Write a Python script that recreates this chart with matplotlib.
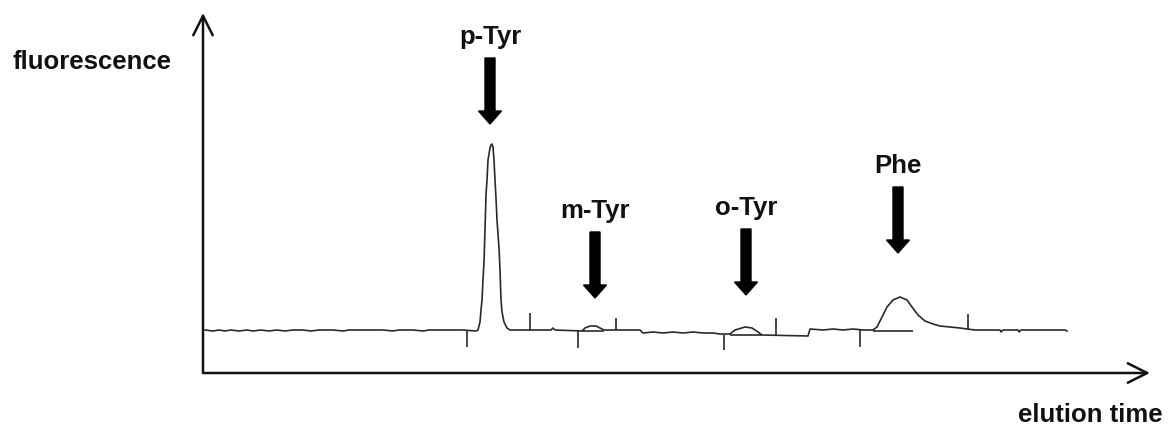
import matplotlib
matplotlib.use("Agg")
import matplotlib.pyplot as plt

plt.rcParams['font.family'] = ['Liberation Sans', 'DejaVu Sans']

# chromatogram trace, elution time vs fluorescence (arbitrary units)
elution_time = [2, 10, 16, 22, 28, 36, 44, 50, 58, 66, 74, 82, 90, 100, 108, 116, 130, 140,
                146, 160, 180, 190, 196, 210, 220, 226, 240, 260,
                273, 275, 277, 278, 279, 280, 281, 282, 283, 284, 285, 287, 288, 289, 290,
                291, 292, 293, 294, 296, 297, 298, 299, 301, 304, 307,
                320, 348, 350, 352, 379, 382, 387, 393, 397, 401,
                437, 440, 450, 460, 470, 480, 490, 500, 510, 517,
                527, 532, 542, 549, 555, 559, 605, 607, 620, 630, 640, 650, 660,
                670, 674, 679, 684, 690, 697, 704, 709, 715, 722, 730, 737, 747, 757, 764, 772,
                797, 798, 800, 815, 816, 818, 862, 864]
fluorescence = [43, 42, 43, 42, 43, 42, 43, 42, 43, 42, 43, 42, 43, 43, 42, 43, 43, 42,
                43, 43, 43, 42, 43, 43, 42, 43, 43, 43,
                42, 43, 51, 63, 73, 93, 111, 143, 178, 193, 213, 225, 228, 229, 226,
                213, 193, 175, 153, 125, 103, 73, 61, 51, 45, 43,
                43, 43, 45, 43, 42, 45, 47, 47, 45, 43,
                43, 40, 41, 40, 41, 40, 41, 40, 40, 39,
                39, 43, 46, 45, 41, 38, 37, 44, 43, 44, 43, 44, 43,
                43, 46, 56, 66, 73, 76, 73, 66, 58, 52, 49, 47, 46, 45, 44, 43,
                43, 41, 43, 43, 41, 43, 43, 42]

# event markers on the trace: (time, from, to)
marker_time = [264, 327, 375, 413, 521, 573, 657, 765]
marker_low = [26, 43, 25, 43, 23, 38, 26, 44]
marker_high = [43, 60, 43, 55, 38, 55, 43, 59]

# integration baselines under the small peaks
base_start = [379, 527, 670]
base_end = [401, 559, 710]
base_level = [42, 38, 42]

# peak annotations
peak_names = ["p-Tyr", "m-Tyr", "o-Tyr", "Phe"]
peak_times = [287, 392, 543, 695]
arrow_tips = [249, 75, 78, 120]

W, H = 1168, 430
ox, oy = 203, 373  # axis origin in pixels
fig = plt.figure(figsize=(W / 100, H / 100), dpi=100)
ax = fig.add_axes([ox / W, (H - oy) / H, (W - ox) / W, oy / H])
ax.set_xlim(0, W - ox)
ax.set_ylim(0, oy)
ax.axis("off")

ink = "#111111"

# axes arrows
ax.annotate("", xy=(0, 360), xytext=(0, 0), annotation_clip=False,
            arrowprops=dict(arrowstyle="->,head_length=0.7,head_width=0.35",
                            mutation_scale=20, lw=1.8, color=ink, shrinkA=0, shrinkB=0))
ax.annotate("", xy=(947, 0), xytext=(0, 0), annotation_clip=False,
            arrowprops=dict(arrowstyle="->,head_length=0.7,head_width=0.35",
                            mutation_scale=20, lw=1.8, color=ink, shrinkA=0, shrinkB=0))

# trace
ax.plot(elution_time, fluorescence, color="#2a2a2a", lw=1.2, clip_on=False)
ax.vlines(marker_time, marker_low, marker_high, color="#2a2a2a", lw=1.2)
ax.hlines(base_level, base_start, base_end, color="#2a2a2a", lw=1.2)

# peak arrows and labels
for name, t, tip in zip(peak_names, peak_times, arrow_tips):
    top = tip + 66
    ax.arrow(t, top, 0, tip - top, width=10, head_width=23, head_length=13,
             length_includes_head=True, color="black", clip_on=False)
    ax.text(t, top + 21, name, ha="center", va="center", fontsize=18.5,
            fontweight="bold", color=ink)

fig.text(92 / W, 1 - 62 / H, "fluorescence", ha="center", va="center",
         fontsize=18.5, fontweight="bold", color=ink)
fig.text(1090 / W, 1 - 415 / H, "elution time", ha="center", va="center",
         fontsize=18.5, fontweight="bold", color=ink)

fig.savefig("out.png", dpi=100)
